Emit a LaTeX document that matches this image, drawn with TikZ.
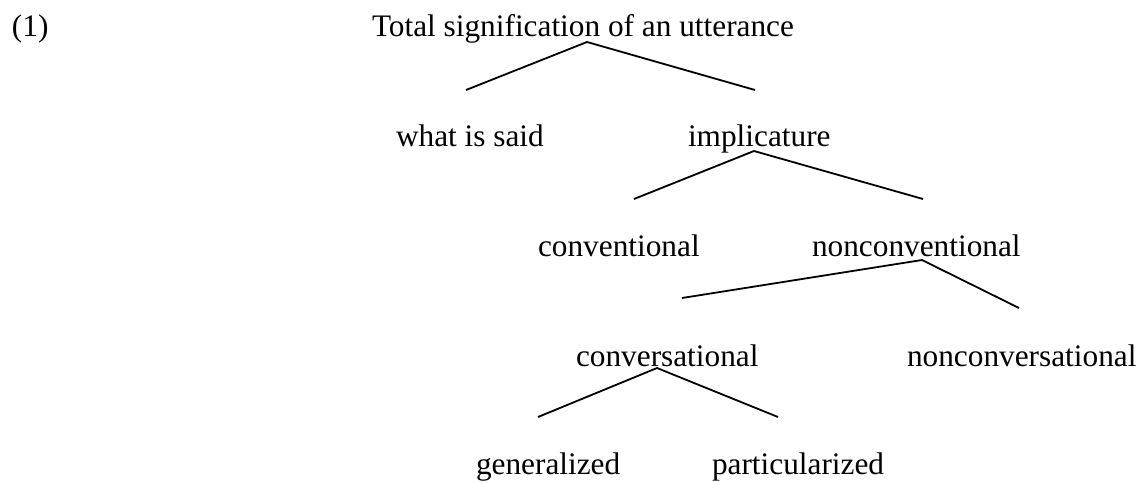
\documentclass[tikz,border=0pt]{standalone}
\usepackage{fontspec}
\setmainfont{Liberation Serif}
\begin{document}
\begin{tikzpicture}[x=1pt,y=-1pt,
  lbl/.style={anchor=base west,inner sep=0pt,outer sep=0pt,font=\fontsize{31.3}{36}\selectfont},
  branch/.style={draw=black,line width=1.8pt}]
\useasboundingbox (0,0) rectangle (1148,483);
% labels
\node[lbl] (num)   at (12,36)  {(1)};
\node[lbl] (root)  at (372,36) {Total signification of an utterance};
\node[lbl] (said)  at (396,146) {what is said};
\node[lbl] (impl)  at (688,146) {implicature};
\node[lbl] (conv)  at (538,256) {conventional};
\node[lbl] (nconv) at (812,256) {nonconventional};
\node[lbl] (cvs)   at (576,366) {conversational};
\node[lbl] (ncvs)  at (907,366) {nonconversational};
\node[lbl] (gen)   at (476,474) {generalized};
\node[lbl] (part)  at (712,474) {particularized};
% branch points
\coordinate (a1) at (587,42);  \coordinate (l1) at (466,90);  \coordinate (r1) at (755,90);
\coordinate (a2) at (754,151); \coordinate (l2) at (634,199); \coordinate (r2) at (923,199);
\coordinate (a3) at (922,260); \coordinate (l3) at (682,298); \coordinate (r3) at (1019,308);
\coordinate (a4) at (657,368); \coordinate (l4) at (538,417); \coordinate (r4) at (778,417);
\draw[branch] (l1) -- (a1) -- (r1);
\draw[branch] (l2) -- (a2) -- (r2);
\draw[branch] (l3) -- (a3) -- (r3);
\draw[branch] (l4) -- (a4) -- (r4);
\end{tikzpicture}
\end{document}
